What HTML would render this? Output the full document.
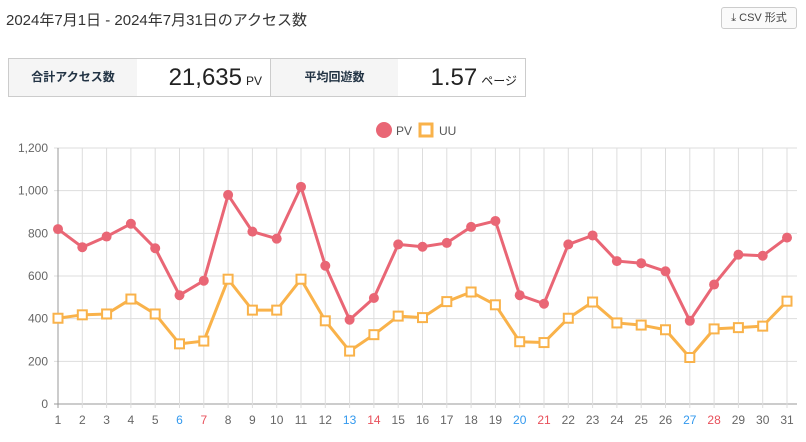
<!DOCTYPE html>
<html><head><meta charset="utf-8"><style>
body{margin:0;width:806px;height:442px;background:#fff;font-family:"Liberation Sans","Noto Sans CJK JP",sans-serif;color:#333;position:relative;overflow:hidden}
.title{position:absolute;left:6px;top:9px;font-size:15px;color:#333}
.csv{position:absolute;left:721px;top:7px;width:74px;height:20px;border:1px solid #ccc;border-radius:3px;font-size:11px;line-height:20px;text-align:center;color:#444;background:#fafafa}
.stats{position:absolute;left:8px;top:58px;width:516px;height:37px;border:1px solid #ccc;display:flex}
.stats div{height:37px;line-height:37px}
.lab{background:#f5f5f5;font-size:12px;font-weight:bold;color:#234;text-align:center}
.val{text-align:right;font-size:24px;color:#222;padding-right:8px;box-sizing:border-box}
.val small{font-size:12px;margin-left:4px}
</style></head><body>
<div class="title">2024年7月1日 - 2024年7月31日のアクセス数</div>
<div class="csv">⤓ CSV 形式</div>
<div class="stats">
<div class="lab" style="width:128px">合計アクセス数</div>
<div class="val" style="width:134px;border-right:1px solid #ccc">21,635<small>PV</small></div>
<div class="lab" style="width:127px">平均回遊数</div>
<div class="val" style="width:127px">1.57<small>ページ</small></div>
</div>
<svg id="chart" width="806" height="442" style="position:absolute;left:0;top:0"></svg>
<script>
const days=[1,2,3,4,5,6,7,8,9,10,11,12,13,14,15,16,17,18,19,20,21,22,23,24,25,26,27,28,29,30,31];
const pv=[820,735,785,845,730,510,578,980,808,775,1018,648,395,497,748,737,755,830,858,510,470,748,790,670,660,622,390,560,700,695,780];
const uu=[402,418,422,492,422,282,295,585,440,440,585,390,248,325,412,405,480,525,465,292,288,402,478,380,370,348,218,352,358,365,482];
const yTicks=[0,200,400,600,800,1000,1200];
const saturdays=[6,13,20,27];
const sundays=[7,14,21,28];
const NS='http://www.w3.org/2000/svg';
const svg=document.getElementById('chart');
const x0=58,x1=787,yB=404,yT=148;
const xs=d=>x0+(d-1)*(x1-x0)/30;
const ys=v=>yB-v*(yB-yT)/1200;
function mk(t,a){const e=document.createElementNS(NS,t);for(const k in a)e.setAttribute(k,a[k]);svg.appendChild(e);return e;}
yTicks.forEach(v=>{
 const l=mk('line',{x1:x0-4,x2:797,y1:ys(v),y2:ys(v),stroke:v===0?'#999':'#ddd'});
 
 
 const t=mk('text',{x:x0-10,y:ys(v)+4,'text-anchor':'end','font-size':12,fill:'#666'});
 t.textContent=v.toLocaleString('en-US');
 
 
});
days.forEach(d=>{
 const l=mk('line',{x1:xs(d),x2:xs(d),y1:yT,y2:yB+4,stroke:d===1?'#999':'#ddd'});
 
 
 const c=saturdays.includes(d)?'#3399ee':sundays.includes(d)?'#e8505b':'#666';
 const t=mk('text',{x:xs(d),y:yB+20,'text-anchor':'middle','font-size':12,fill:c});
 t.textContent=d;
 
 
});
function series(vals,color,name,sq){
 const p=mk('polyline',{points:vals.map((v,i)=>xs(days[i])+','+ys(v)).join(' '),fill:'none',stroke:color,'stroke-width':3,'stroke-linejoin':'round'});
 
 
 vals.forEach((v,i)=>{
  let m;
  if(sq)m=mk('rect',{x:xs(days[i])-4.5,y:ys(v)-4.5,width:9,height:9,fill:'#fff',stroke:color,'stroke-width':2});
  else m=mk('circle',{cx:xs(days[i]),cy:ys(v),r:5,fill:color});
  
  
 });
}
series(uu,'#f9b24a','uu',true);
series(pv,'#e96675','pv',false);
const lc=mk('circle',{cx:384,cy:130,r:8,fill:'#e96675'});


const lt=mk('text',{x:396,y:135,'font-size':12,fill:'#555'});lt.textContent='PV';


const ls=mk('rect',{x:420,y:124,width:12,height:12,fill:'#fff',stroke:'#f9b24a','stroke-width':3});


const lu=mk('text',{x:439,y:135,'font-size':12,fill:'#555'});lu.textContent='UU';


</script>
</body></html>
